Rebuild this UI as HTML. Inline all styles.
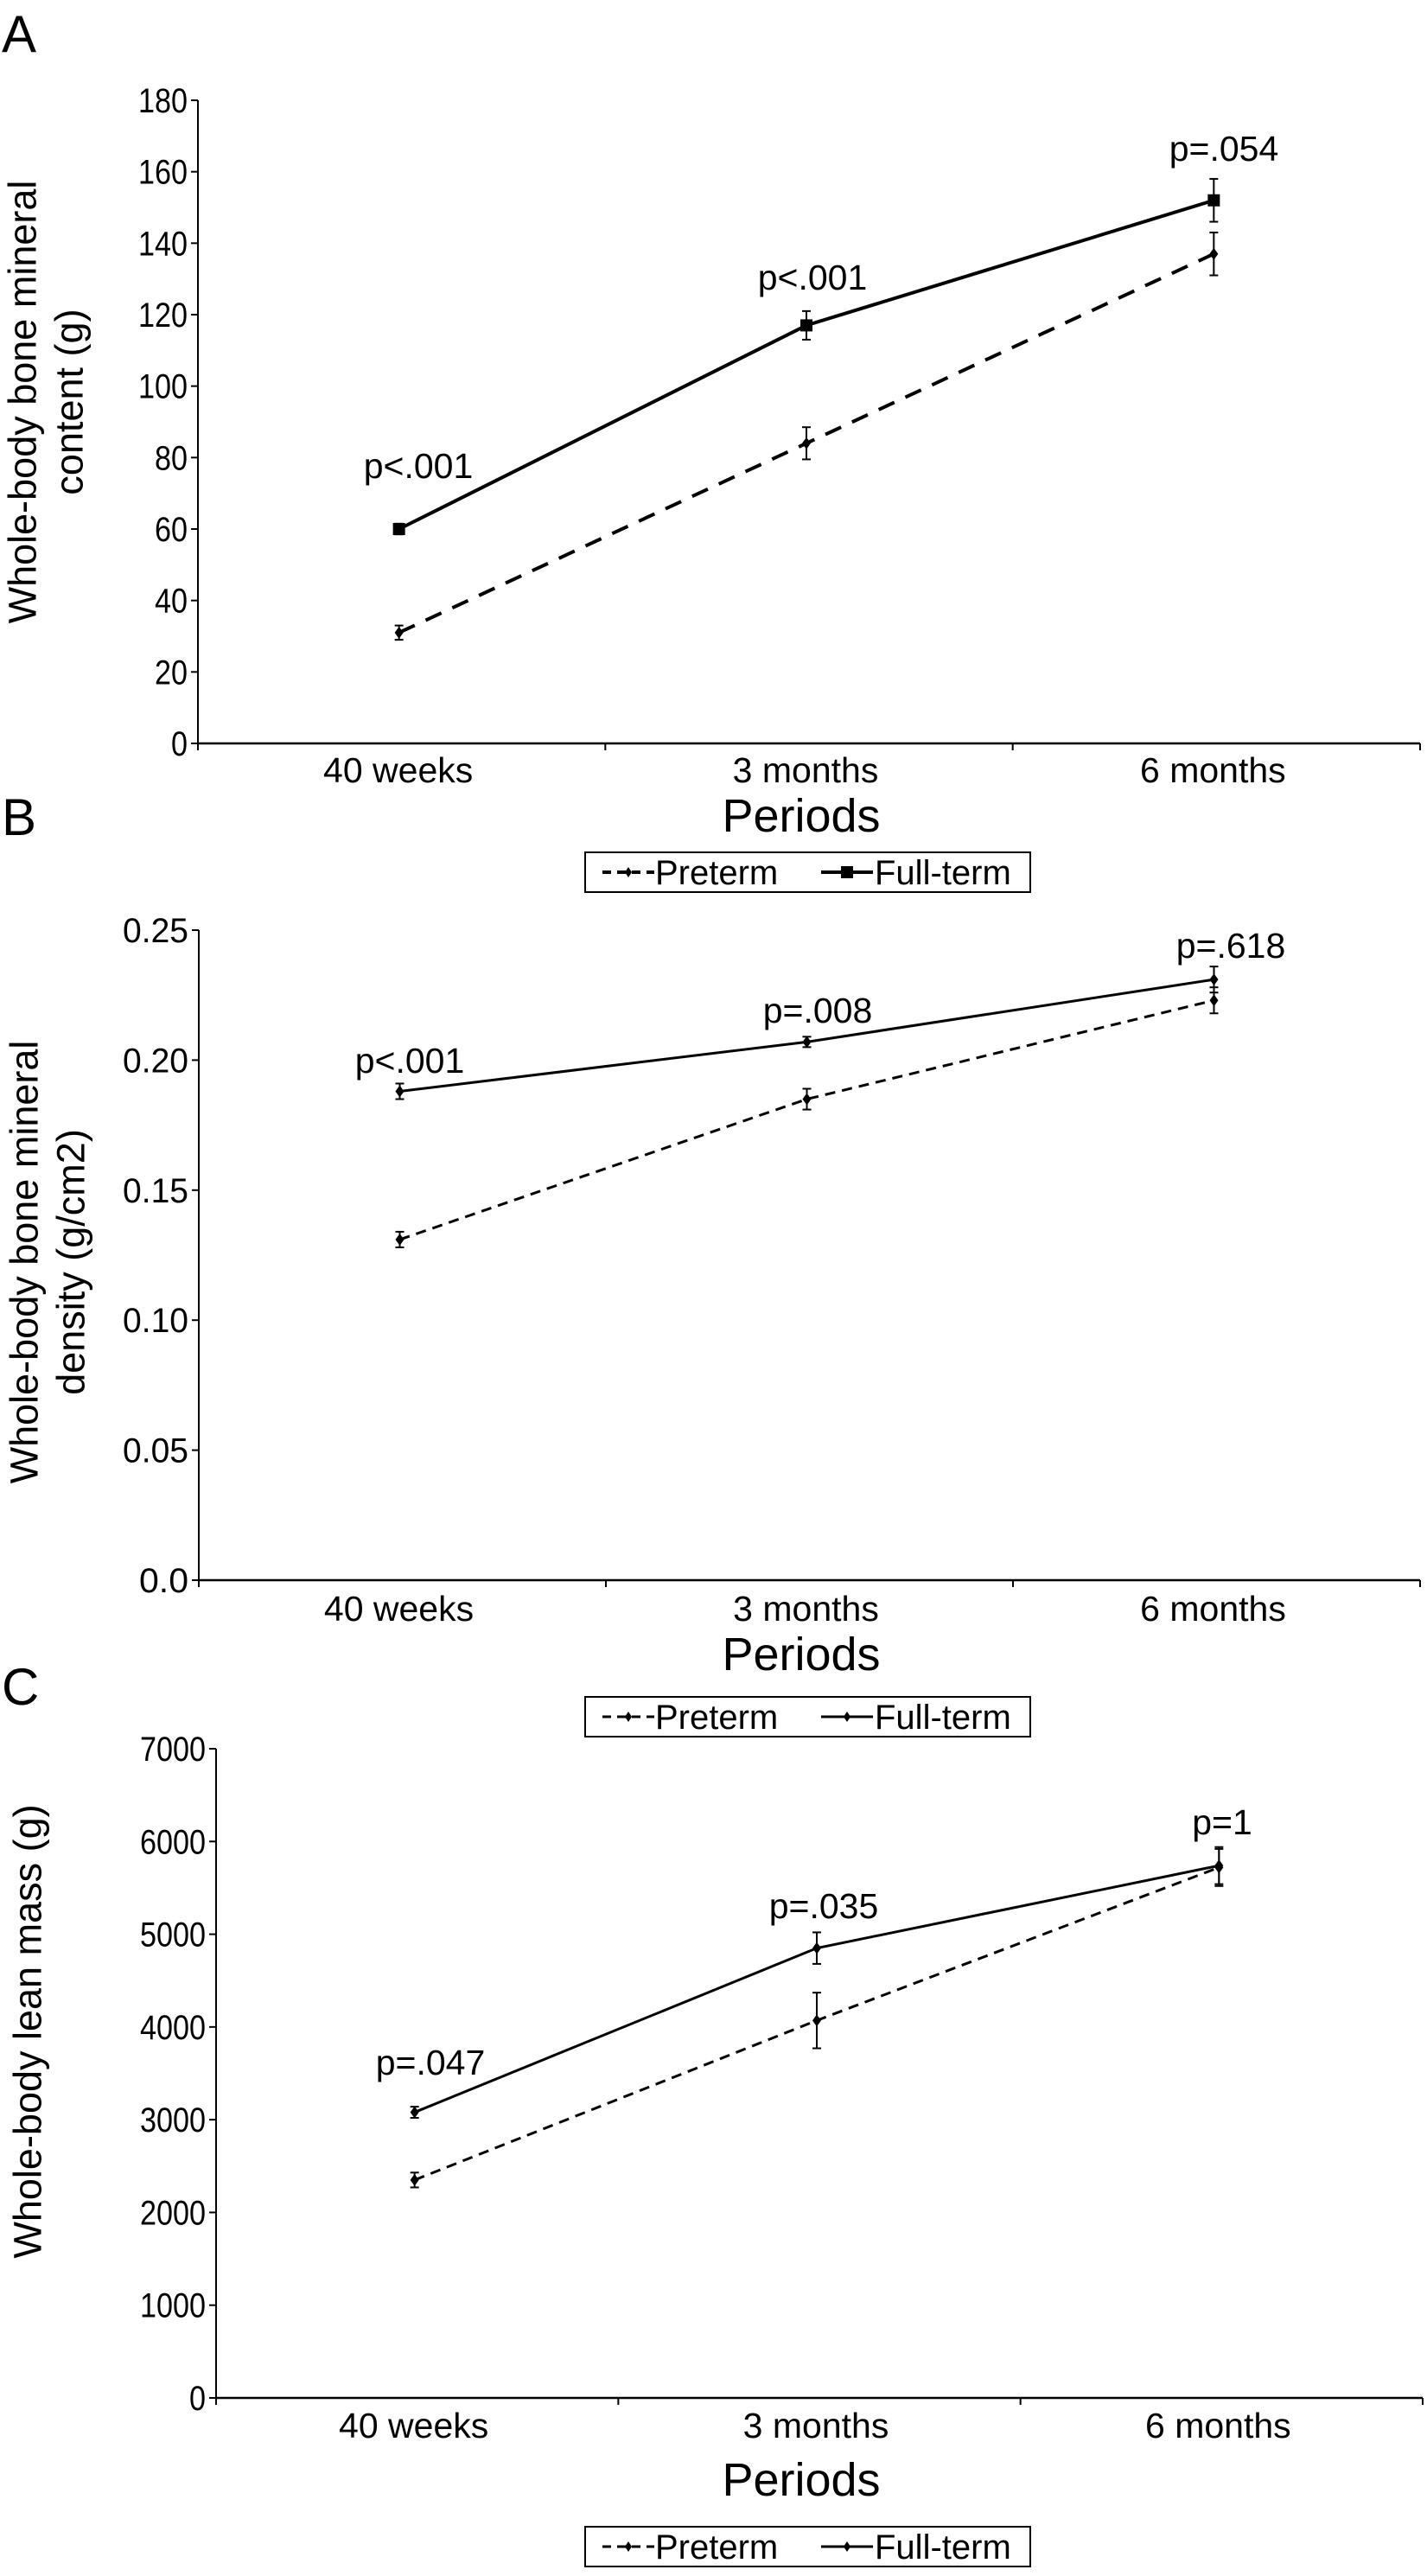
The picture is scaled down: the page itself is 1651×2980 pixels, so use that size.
<!DOCTYPE html>
<html><head><meta charset="utf-8"><style>
body{margin:0;background:#fff;}
svg{display:block;font-family:"Liberation Sans",Arial,sans-serif;}
</style></head><body>
<svg id="fig" width="1651" height="2980" viewBox="0 0 1651 2980" xmlns="http://www.w3.org/2000/svg">
<text x="2" y="60" font-size="60">A</text>
<text x="2" y="966" font-size="60">B</text>
<text x="2" y="1972" font-size="60">C</text>
</svg>
<script>
const categories = ["40 weeks", "3 months", "6 months"];
const aPreterm = [31, 84, 137];
const aPretermErr = [2, 4.5, 6];
const aFull = [60, 117, 152];
const aFullErr = [1.5, 4, 6];
const aTicks = [0, 20, 40, 60, 80, 100, 120, 140, 160, 180];
const aTickLabels = ["0","20","40","60","80","100","120","140","160","180"];
const aPLabels = ["p<.001", "p<.001", "p=.054"];

const bPreterm = [0.131, 0.185, 0.223];
const bPretermErr = [0.003, 0.004, 0.005];
const bFull = [0.188, 0.207, 0.231];
const bFullErr = [0.003, 0.002, 0.005];
const bTicks = [0, 0.05, 0.10, 0.15, 0.20, 0.25];
const bTickLabels = ["0.0","0.05","0.10","0.15","0.20","0.25"];
const bPLabels = ["p<.001", "p=.008", "p=.618"];

const cPreterm = [2350, 4070, 5720];
const cPretermErr = [80, 300, 200];
const cFull = [3080, 4850, 5740];
const cFullErr = [60, 170, 200];
const cTicks = [0, 1000, 2000, 3000, 4000, 5000, 6000, 7000];
const cTickLabels = ["0","1000","2000","3000","4000","5000","6000","7000"];
const cPLabels = ["p=.047", "p=.035", "p=1"];

const NS = "http://www.w3.org/2000/svg";
const svg = document.getElementById("fig");
function mk(tag, attrs, parent, text) {
  const e = document.createElementNS(NS, tag);
  for (const k in attrs) e.setAttribute(k, attrs[k]);
  if (text !== undefined) e.textContent = text;
  (parent || svg).appendChild(e);
  return e;
}

function chart(o) {
  const g = mk("g", {});
  
  
  const ymax = o.ticks[o.ticks.length - 1];
  const y = v => o.y0 - (v / ymax) * (o.y0 - o.y1);
  const band = (o.x1 - o.x0) / categories.length;
  const x = i => o.x0 + band * (i + 0.5);
  const ya = mk("line", {x1:o.x0, y1:o.y1, x2:o.x0, y2:o.y0, stroke:"#000", "stroke-width":2}, g);
  
  
  const xa = mk("line", {x1:o.x0, y1:o.y0, x2:o.x1, y2:o.y0, stroke:"#000", "stroke-width":2.5}, g);
  
  
  o.ticks.forEach((t, i) => {
    mk("line", {x1:o.x0-8, y1:y(t), x2:o.x0, y2:y(t), stroke:"#000", "stroke-width":2}, g);
    const tl = mk("text", {x:o.x0-12, y:y(t)+14, "font-size":40, "text-anchor":"end", "textLength": o.tickLabels[i].length*19, "lengthAdjust":"spacingAndGlyphs"}, g, o.tickLabels[i]);
    
    
  });
  for (let i = 0; i <= categories.length; i++) {
    mk("line", {x1:o.x0+band*i, y1:o.y0, x2:o.x0+band*i, y2:o.y0+8, stroke:"#000", "stroke-width":2}, g);
  }
  categories.forEach((c, i) => {
    const t = mk("text", {x:x(i)-4, y:o.xlabY, "font-size":41, "text-anchor":"middle"}, g, c);
    
    
  });
  const xt = mk("text", {x:927, y:o.periodsY, "font-size":54, "text-anchor":"middle"}, g, "Periods");
  
  
  o.ytitle.forEach((line, k) => {
    const cx = o.ytitleX[k];
    const t = mk("text", {x:cx, y:o.ytitleY, "font-size":45, "text-anchor":"middle", transform:`rotate(-90 ${cx} ${o.ytitleY})`, "dominant-baseline":"central"}, g, line);
    
    
  });
  const series = [
    {vals:o.pre, err:o.preErr, dash:o.dash, name:"preterm"},
    {vals:o.full, err:o.fullErr, dash:null, name:"full-term"}
  ];
  series.forEach(s => {
    const pts = s.vals.map((v, i) => `${x(i)-3},${y(v)}`).join(" ");
    const pl = mk("polyline", {points:pts, fill:"none", stroke:"#000", "stroke-width":o.lw}, g);
    if (s.dash) pl.setAttribute("stroke-dasharray", s.dash);
    
    
    s.vals.forEach((v, i) => {
      const cx = x(i)-3;
      const e = s.err[i];
      mk("line", {x1:cx, y1:y(v+e), x2:cx, y2:y(v-e), stroke:"#000", "stroke-width":2}, g);
      mk("line", {x1:cx-5, y1:y(v+e), x2:cx+5, y2:y(v+e), stroke:"#000", "stroke-width":2}, g);
      mk("line", {x1:cx-5, y1:y(v-e), x2:cx+5, y2:y(v-e), stroke:"#000", "stroke-width":2}, g);
      let m;
      if (s.name === "full-term" && o.square) {
        m = mk("rect", {x:cx-7, y:y(v)-7, width:14, height:14, fill:"#000"}, g);
      } else {
        m = mk("polygon", {points:`${cx},${y(v)-7} ${cx+5},${y(v)} ${cx},${y(v)+7} ${cx-5},${y(v)}`, fill:"#000"}, g);
      }
      
      
    });
  });
  o.pLabels.forEach((p, i) => {
    const t = mk("text", {x:o.pX[i], y:o.pY[i], "font-size":41, "text-anchor":"middle"}, g, p);
    
    
  });
  const ly = o.legY;
  const lg = mk("g", {}, g);
  
  
  mk("rect", {x:677, y:ly, width:515, height:46, fill:"#fff", stroke:"#000", "stroke-width":2}, lg);
  mk("line", {x1:697, y1:ly+23, x2:757, y2:ly+23, stroke:"#000", "stroke-width":o.lw, "stroke-dasharray":"10,7"}, lg);
  mk("polygon", {points:`727,${ly+17} 731,${ly+23} 727,${ly+29} 723,${ly+23}`, fill:"#000"}, lg);
  const t1 = mk("text", {x:758, y:ly+37, "font-size":40}, lg, "Preterm");
  
  
  mk("line", {x1:950, y1:ly+23, x2:1010, y2:ly+23, stroke:"#000", "stroke-width":o.lw}, lg);
  if (o.square) mk("rect", {x:973, y:ly+16, width:14, height:14, fill:"#000"}, lg);
  else mk("polygon", {points:`980,${ly+17} 984,${ly+23} 980,${ly+29} 976,${ly+23}`, fill:"#000"}, lg);
  const t2 = mk("text", {x:1012, y:ly+37, "font-size":40}, lg, "Full-term");
  
  
}

chart({name:"chart-a-bone-mineral-content", x0:229, x1:1643, y0:860, y1:116,
  ticks:aTicks, tickLabels:aTickLabels, pre:aPreterm, preErr:aPretermErr, full:aFull, fullErr:aFullErr,
  pLabels:aPLabels, pX:[484,940,1416], pY:[553,335,186], xlabY:905, periodsY:962, legY:986,
  ytitle:["Whole-body bone mineral","content (g)"], ytitleX:[26,80], ytitleY:465, lw:4, dash:"20,14", square:true});
chart({name:"chart-b-bone-mineral-density", x0:230, x1:1643, y0:1828, y1:1076,
  ticks:bTicks, tickLabels:bTickLabels, pre:bPreterm, preErr:bPretermErr, full:bFull, fullErr:bFullErr,
  pLabels:bPLabels, pX:[474,946,1424], pY:[1241,1183,1108], xlabY:1875, periodsY:1932, legY:1963,
  ytitle:["Whole-body bone mineral","density (g/cm2)"], ytitleX:[28,82], ytitleY:1460, lw:3, dash:"12,8", square:false});
chart({name:"chart-c-lean-mass", x0:250, x1:1646, y0:2774, y1:2023,
  ticks:cTicks, tickLabels:cTickLabels, pre:cPreterm, preErr:cPretermErr, full:cFull, fullErr:cFullErr,
  pLabels:cPLabels, pX:[498,953,1414], pY:[2400,2219,2122], xlabY:2820, periodsY:2887, legY:2923,
  ytitle:["Whole-body lean mass (g)"], ytitleX:[32], ytitleY:2350, lw:3, dash:"12,8", square:false});
</script>
</body></html>
